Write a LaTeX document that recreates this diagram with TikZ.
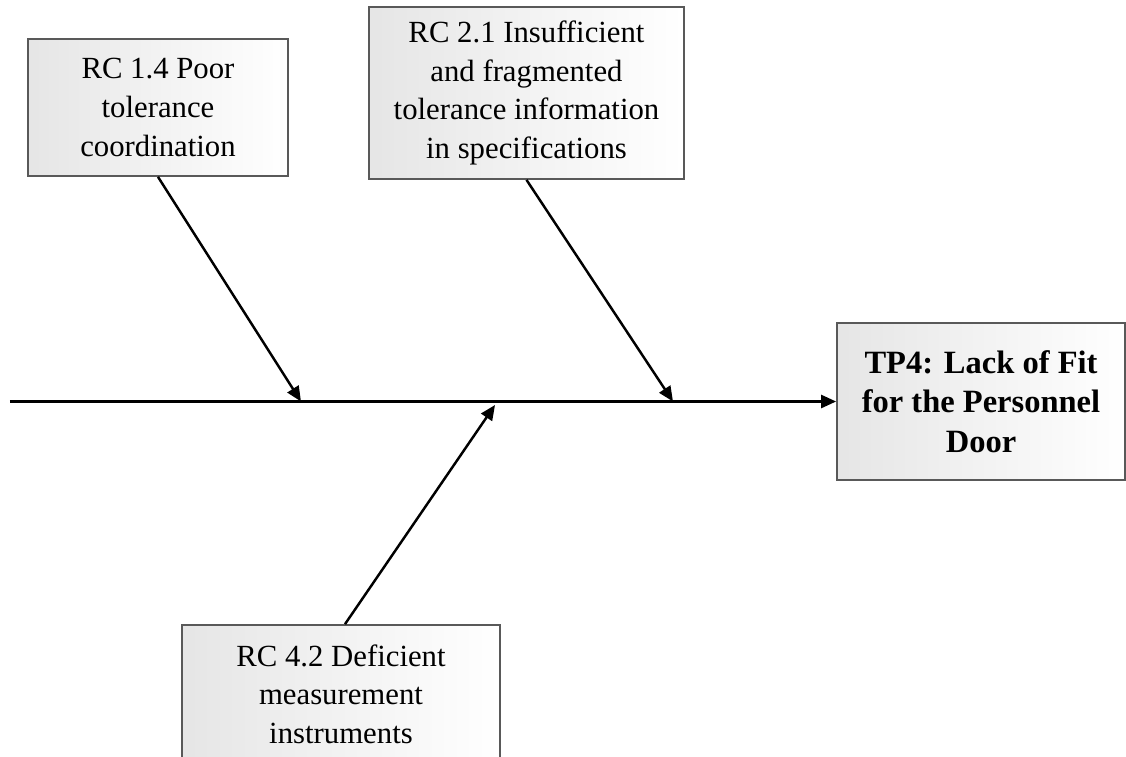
\documentclass[tikz,border=0pt]{standalone}
\usepackage{fontspec}
\setmainfont{Liberation Serif}
\usetikzlibrary{arrows.meta,positioning}
\tikzset{
  base/.style={
    draw=black!65,
    line width=1pt,
    inner sep=0pt,
    align=center,
    font=\fontsize{17.5}{22}\selectfont,
  },
  cause/.style={
    base,
    left color=black!10,
    right color=white,
  },
  effect/.style={
    cause,
    font=\fontsize{18.5}{22.5}\selectfont\bfseries,
  },
  edge/.style={
    -{Triangle[length=0.3cm,width=0.26cm]},
    line width=1.4pt,
  },
}
\begin{document}
\begin{tikzpicture}
    \useasboundingbox (0,0) rectangle (22.52,-15.12);

    \node [cause, minimum width=5.2cm, minimum height=2.74cm] (rc14) at (3.16,-2.15)
      {RC 1.4 Poor\\tolerance\\coordination};
    \node [cause, minimum width=6.3cm, minimum height=3.44cm] (rc21) at (10.53,-1.86)
      {RC 2.1 Insufficient\\and fragmented\\tolerance information\\in specifications};
    \node [effect, minimum width=5.76cm, minimum height=3.14cm] (tp4) at (19.62,-8.03)
      {TP4: Lack of Fit\\for the Personnel\\Door};
    \node [cause, minimum width=6.36cm, minimum height=2.76cm] (rc42) at (6.82,-13.88)
      {RC 4.2 Deficient\\measurement\\instruments};

    % spine
    \coordinate (tail) at (0.2,0 |- tp4.west);
    \draw [edge] (tail) -- (tp4.west);

    % bones
    \coordinate (hit1) at (6.02,0 |- tp4.west);
    \coordinate (hit2) at (13.46,0 |- tp4.west);
    \coordinate (hit3) at (9.9,-8.1);
    \draw [edge] (rc14.south) -- (hit1);
    \draw [edge] (rc21.south) -- (hit2);
    \draw [edge] ([xshift=0.08cm] rc42.north) -- (hit3);
\end{tikzpicture}
\end{document}
